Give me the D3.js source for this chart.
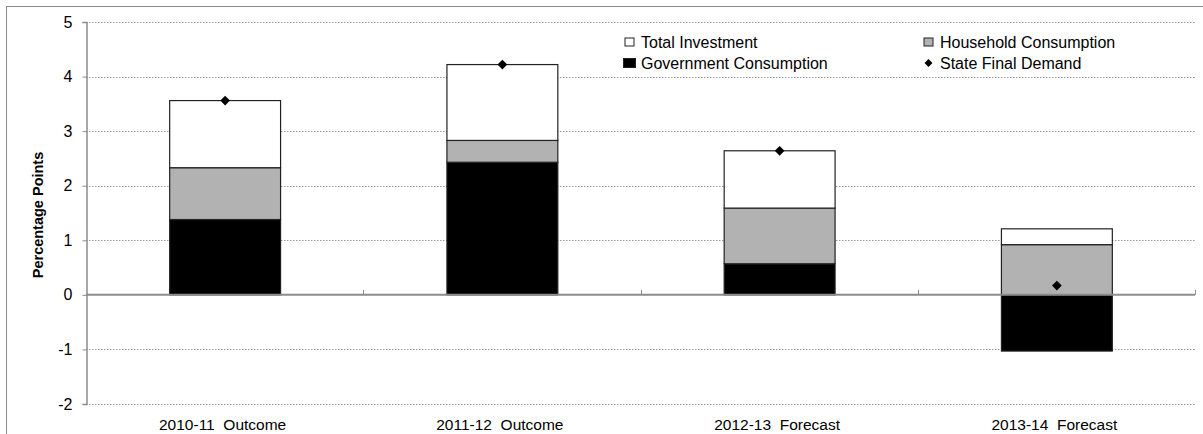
<!DOCTYPE html>
<html>
<head>
<meta charset="utf-8">
<script src="https://cdn.jsdelivr.net/npm/d3@7"></script>
<style>
  html, body { margin: 0; padding: 0; background: #fff; }
  svg { display: block; font-family: "Liberation Sans", Arial, sans-serif; }
</style>
</head>
<body>
<svg id="chart" width="1203" height="434"></svg>
<script>
// Contributions to state final demand growth, percentage points
const categories = ["2010-11  Outcome", "2011-12  Outcome", "2012-13  Forecast", "2013-14  Forecast"];
const governmentConsumption = [1.38, 2.43, 0.57, -1.03];
const householdConsumption = [0.95, 0.40, 1.02, 0.92];
const totalInvestment = [1.23, 1.39, 1.05, 0.29];
const stateFinalDemand = [3.56, 4.22, 2.64, 0.17];
const yTicks = [-2, -1, 0, 1, 2, 3, 4, 5];

const svg = d3.select("#chart");
const W = 1203, H = 434;
const plot = { left: 86, right: 1195, top: 22, bottom: 404 };

// Outer frame
svg.append("rect")
  .attr("x", 6.5).attr("y", 6.5)
  .attr("width", W - 4).attr("height", H)
  .attr("fill", "none").attr("stroke", "#8c8c8c").attr("stroke-width", 1);

const x = d3.scaleBand().domain(categories).range([plot.left, plot.right]).paddingInner(0).paddingOuter(0);
const y = d3.scaleLinear().domain([-2, 5]).range([plot.bottom, plot.top]);

// Dotted gridlines
svg.append("g").selectAll("line").data(yTicks.filter(d => d !== 0)).join("line")
  .attr("x1", plot.left).attr("x2", plot.right)
  .attr("y1", d => Math.round(y(d)) + 0.5).attr("y2", d => Math.round(y(d)) + 0.5)
  .attr("stroke", "#9a9a9a").attr("stroke-width", 1).attr("stroke-dasharray", "1.5,1.5");

// Y axis
const yAxis = svg.append("g")
  .attr("transform", `translate(${plot.left + 0.5},0)`)
  .call(d3.axisLeft(y).tickValues(yTicks).tickSize(4).tickPadding(10).tickFormat(d => String(d)));
yAxis.select(".domain").attr("stroke", "#8c8c8c").attr("stroke-width", 1.5);
yAxis.selectAll(".tick line").attr("stroke", "#8c8c8c");
yAxis.selectAll(".tick text").attr("font-size", 16).attr("fill", "#000")
  .attr("font-family", "Liberation Sans, Arial, sans-serif");

svg.append("text")
  .attr("transform", `translate(43,${(plot.top + plot.bottom) / 2 + 2}) rotate(-90)`)
  .attr("text-anchor", "middle")
  .attr("font-size", 14.5).attr("font-weight", "bold")
  .text("Percentage Points");

// Stacked bars
const barW = x.bandwidth() * 0.4;
const series = [
  { key: "gov", values: governmentConsumption, fill: "#000000" },
  { key: "hh", values: householdConsumption, fill: "#b2b2b2" },
  { key: "inv", values: totalInvestment, fill: "#ffffff" }
];
const barsG = svg.append("g");
categories.forEach((c, i) => {
  let pos = 0, neg = 0;
  series.forEach(s => {
    const v = s.values[i];
    let y0, y1;
    if (v >= 0) { y0 = pos; y1 = pos + v; pos = y1; }
    else { y0 = neg + v; y1 = neg; neg = y0; }
    barsG.append("rect")
      .attr("x", x(c) + (x.bandwidth() - barW) / 2 + 0.5)
      .attr("y", y(y1))
      .attr("width", barW)
      .attr("height", y(y0) - y(y1))
      .attr("fill", s.fill)
      .attr("stroke", "#222").attr("stroke-width", 1.2);
  });
});

// Zero line with category separators
svg.append("line")
  .attr("x1", plot.left).attr("x2", plot.right)
  .attr("y1", y(0)).attr("y2", y(0))
  .attr("stroke", "#8c8c8c").attr("stroke-width", 2);
svg.append("g").selectAll("line").data(categories).join("line")
  .attr("x1", (d, i) => Math.round(plot.left + x.bandwidth() * (i + 1)) + 0.5)
  .attr("x2", (d, i) => Math.round(plot.left + x.bandwidth() * (i + 1)) + 0.5)
  .attr("y1", y(0) - 5).attr("y2", y(0))
  .attr("stroke", "#8c8c8c").attr("stroke-width", 1);

// State final demand markers
const diamond = d3.symbol().type(d3.symbolDiamond2).size(60);
svg.append("g").selectAll("path").data(stateFinalDemand).join("path")
  .attr("d", diamond)
  .attr("transform", (d, i) => `translate(${x(categories[i]) + x.bandwidth() / 2 + 0.5},${y(d)})`)
  .attr("fill", "#000");

// Category labels
svg.append("g").selectAll("text").data(categories).join("text")
  .attr("x", d => x(d) + x.bandwidth() / 2 - 2)
  .attr("y", 430)
  .attr("text-anchor", "middle")
  .attr("font-size", 15.5)
  .attr("xml:space", "preserve")
  .style("white-space", "pre")
  .text(d => d);

// Legend
const legendItems = [
  { label: "Total Investment", type: "square", fill: "#fff", w: 9, h: 8, x: 629, y: 42 },
  { label: "Household Consumption", type: "square", fill: "#b2b2b2", w: 9, h: 8, x: 928, y: 42 },
  { label: "Government Consumption", type: "square", fill: "#000", w: 12, h: 9, x: 629, y: 63 },
  { label: "State Final Demand", type: "diamond", fill: "#000", w: 9, h: 9, x: 928, y: 63 }
];
const lg = svg.append("g");
legendItems.forEach(it => {
  if (it.type === "square") {
    lg.append("rect")
      .attr("x", it.x - it.w / 2 + 0.5).attr("y", it.y - it.h / 2)
      .attr("width", it.w).attr("height", it.h)
      .attr("fill", it.fill).attr("stroke", "#222").attr("stroke-width", 1);
  } else {
    lg.append("path")
      .attr("d", d3.symbol().type(d3.symbolDiamond2).size(40))
      .attr("transform", `translate(${it.x + 0.5},${it.y})`)
      .attr("fill", it.fill);
  }
  lg.append("text")
    .attr("x", it.x + 12).attr("y", it.y)
    .attr("dy", "0.36em")
    .attr("font-size", 16)
    .text(it.label);
});
</script>
</body>
</html>
